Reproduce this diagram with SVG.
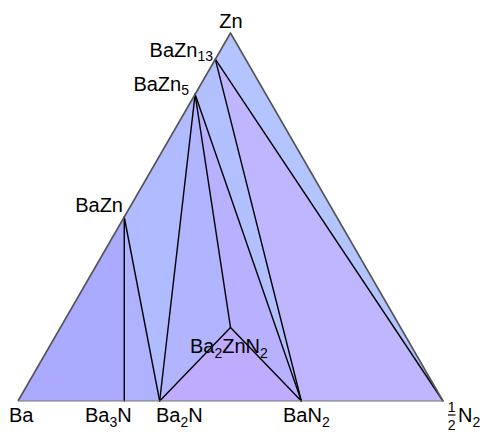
<svg xmlns="http://www.w3.org/2000/svg" width="486" height="432" viewBox="0 0 486 432">
<style>
.lbl{font-family:"Liberation Sans",Arial,sans-serif;font-size:20px;fill:#000}
.sub{font-size:14px}
.tie{stroke:#000;stroke-width:1.4;fill:none;stroke-linecap:round}
.edge{stroke:#555;stroke-width:1.6;fill:none;stroke-linejoin:round}
</style>
<rect width="486" height="432" fill="#fff"/>
<g id="regions" stroke="none">
<polygon points="18,401 124.25,217 124.25,401" fill="#aaaaff"/>
<polygon points="124.25,401 124.25,217 159.67,401" fill="#afb2ff"/>
<polygon points="124.25,217 195.1,94.3 159.67,401" fill="#b0bcff"/>
<polygon points="195.1,94.3 159.67,401 230.5,327.4" fill="#b1b4ff"/>
<polygon points="195.1,94.3 230.5,327.4 301.33,401" fill="#b8b1ff"/>
<polygon points="159.67,401 230.5,327.4 301.33,401" fill="#bfacff"/>
<polygon points="195.1,94.3 215.3,59.2 301.33,401" fill="#b3c0ff"/>
<polygon points="215.3,59.2 301.33,401 443,401" fill="#c0b5ff"/>
<polygon points="215.3,59.2 230.5,33 443,401" fill="#b4c4ff"/>
</g>
<g id="connectors">
<line class="tie" x1="124.25" y1="217" x2="124.25" y2="401"/>
<line class="tie" x1="124.25" y1="217" x2="159.67" y2="401"/>
<line class="tie" x1="195.1" y1="94.3" x2="159.67" y2="401"/>
<line class="tie" x1="195.1" y1="94.3" x2="230.5" y2="327.4"/>
<line class="tie" x1="195.1" y1="94.3" x2="301.33" y2="401"/>
<line class="tie" x1="159.67" y1="401" x2="230.5" y2="327.4"/>
<line class="tie" x1="230.5" y1="327.4" x2="301.33" y2="401"/>
<line class="tie" x1="215.3" y1="59.2" x2="301.33" y2="401"/>
<line class="tie" x1="215.3" y1="59.2" x2="443" y2="401"/>
<polyline class="edge" points="18,401 230.5,33 443,401"/>
<line x1="18" y1="401" x2="443" y2="401" stroke="#777" stroke-width="1.2"/>
<line x1="448" y1="415" x2="455.5" y2="415" stroke="#000" stroke-width="1.2"/>
</g>
<g id="node-Zn"><text class="lbl" x="231" y="28" text-anchor="middle">Zn</text></g>
<g id="node-BaZn13"><text class="lbl" x="213" y="57" text-anchor="end">BaZn<tspan class="sub" dy="4">13</tspan></text></g>
<g id="node-BaZn5"><text class="lbl" x="189" y="91" text-anchor="end">BaZn<tspan class="sub" dy="4">5</tspan></text></g>
<g id="node-BaZn"><text class="lbl" x="123" y="211.5" text-anchor="end">BaZn</text></g>
<g id="node-Ba"><text class="lbl" x="9" y="421.5">Ba</text></g>
<g id="node-Ba3N"><text class="lbl" x="85" y="421.5">Ba<tspan class="sub" dy="5">3</tspan><tspan dy="-5">N</tspan></text></g>
<g id="node-Ba2N"><text class="lbl" x="156" y="421.5">Ba<tspan class="sub" dy="5">2</tspan><tspan dy="-5">N</tspan></text></g>
<g id="node-BaN2"><text class="lbl" x="283" y="421.5">BaN<tspan class="sub" dy="5">2</tspan></text></g>
<g id="node-Ba2ZnN2"><text class="lbl" x="190" y="353">Ba<tspan class="sub" dy="5">2</tspan><tspan dy="-5">ZnN</tspan><tspan class="sub" dy="5">2</tspan></text></g>
<g id="node-N2">
<text class="lbl sub" x="451.7" y="412" text-anchor="middle">1</text>
<text class="lbl sub" x="451.7" y="429.5" text-anchor="middle">2</text>
<text class="lbl" x="458" y="421.5">N<tspan class="sub" dy="5">2</tspan></text>
</g>
</svg>
